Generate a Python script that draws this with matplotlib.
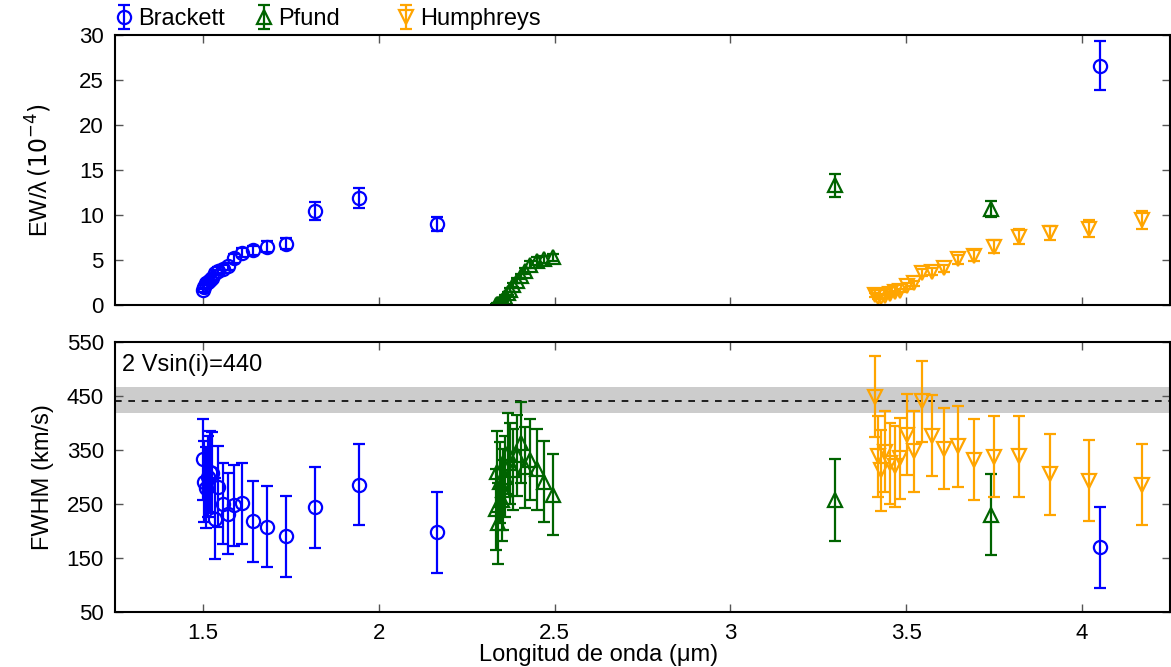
import numpy as np
import matplotlib.pyplot as plt

plt.rcParams['font.family'] = ['Liberation Sans', 'DejaVu Sans']
plt.rcParams['font.size'] = 16

# ── Data (wavelengths in micron) ───────────────────────────────────
# Brackett: Br-alpha, Br-gamma, Br-delta, Br-eps, Br10 ... Br24
br_wl = [4.0512, 2.1655, 1.9445, 1.8174, 1.7362, 1.6811, 1.6412, 1.6114,
         1.5885, 1.5705, 1.5561, 1.5443, 1.5346, 1.5265, 1.5196, 1.5137,
         1.5087, 1.5043, 1.5004]
br_ew = [26.6, 9.0, 11.9, 10.5, 6.8, 6.5, 6.1, 5.8,
         5.2, 4.3, 4.0, 3.8, 3.6, 3.0, 2.8, 2.6, 2.4, 2.0, 1.7]
br_ew_err = [2.7, 0.8, 1.1, 1.0, 0.6, 0.6, 0.5, 0.5,
             0.5, 0.4, 0.4, 0.4, 0.3, 0.3, 0.3, 0.3, 0.2, 0.2, 0.2]
br_fw = [170, 198, 286, 244, 190, 208, 218, 251,
         248, 232, 250, 282, 223, 308, 310, 300, 280, 291, 333]
br_fw_err = [75, 75, 75, 75, 75, 75, 75, 75,
             75, 75, 75, 75, 75, 75, 75, 75, 75, 75, 75]

# Pfund: Pf-gamma, Pf-delta, Pf17 ... Pf33
pf_wl = [3.7406, 3.2970, 2.4953, 2.4700, 2.4490, 2.4314, 2.4164, 2.4036,
         2.3925, 2.3828, 2.3744, 2.3669, 2.3604, 2.3545, 2.3492, 2.3445,
         2.3403, 2.3364, 2.3330]
pf_ew = [10.7, 13.3, 5.3, 5.1, 4.9, 4.5, 3.8, 3.2,
         2.7, 2.2, 1.7, 1.3, 0.9, 0.6, 0.4, 0.25, 0.15, 0.1, 0.05]
pf_ew_err = [0.9, 1.3, 0.4, 0.4, 0.4, 0.4, 0.3, 0.3,
             0.3, 0.2, 0.2, 0.2, 0.2, 0.1, 0.1, 0.1, 0.1, 0.1, 0.1]
pf_fw = [230, 257, 267, 291, 314, 332, 318, 363,
         340, 313, 325, 344, 300, 276, 257, 290, 214, 310, 240]
pf_fw_err = [75, 76, 75, 75, 75, 75, 75, 75,
             75, 75, 75, 75, 75, 75, 75, 75, 75, 75, 75]

# Humphreys: Hu13 ... Hu31
hu_wl = [4.1708, 4.0209, 3.9075, 3.8195, 3.7494, 3.6926, 3.6459, 3.6070,
         3.5741, 3.5461, 3.5220, 3.5011, 3.4830, 3.4670, 3.4528, 3.4403,
         3.4291, 3.4191, 3.4101]
hu_ew = [9.4, 8.5, 8.0, 7.6, 6.5, 5.5, 5.1, 4.1,
         3.7, 3.6, 2.4, 2.1, 1.6, 1.4, 1.2, 1.0, 0.9, 0.9, 1.1]
hu_ew_err = [1.0, 0.9, 0.8, 0.8, 0.7, 0.6, 0.5, 0.4,
             0.4, 0.4, 0.3, 0.3, 0.2, 0.2, 0.2, 0.2, 0.2, 0.2, 0.2]
hu_fw = [286, 293, 305, 338, 337, 332, 357, 352,
         376, 440, 348, 378, 335, 320, 325, 347, 312, 338, 449]
hu_fw_err = [75, 75, 75, 75, 75, 75, 75, 75,
             75, 75, 75, 75, 75, 75, 75, 75, 75, 75, 75]

vsini2 = 440
vsini2_band = (418, 466)

series = [
    ("Brackett", br_wl, br_ew, br_ew_err, br_fw, br_fw_err, '#0000ff', 'o'),
    ("Pfund", pf_wl, pf_ew, pf_ew_err, pf_fw, pf_fw_err, '#006400', '^'),
    ("Humphreys", hu_wl, hu_ew, hu_ew_err, hu_fw, hu_fw_err, '#ffa500', 'v'),
]

fig = plt.figure(figsize=(11.71, 6.67), dpi=100)
ax1 = fig.add_axes([0.0982, 0.5427, 0.9009, 0.4048])
ax2 = fig.add_axes([0.0982, 0.0825, 0.9009, 0.4048])

style = dict(ls='none', mfc='none', ms=9.5, mew=1.6, elinewidth=1.6,
             capsize=4, capthick=1.6)

# ── Bottom panel: 2 Vsin(i) band ───────────────────────────────────
ax2.axhspan(*vsini2_band, color='#cccccc', lw=0, zorder=0)
ax2.axhline(vsini2, color='black', ls=(0, (4, 4)), lw=1.2, zorder=1)
ax2.text(1.27, 507, "2 Vsin(i)=440", fontsize=17, va='center', ha='left')

handles = []
for name, wl, ew, ew_err, fw, fw_err, col, mk in series:
    h = ax1.errorbar(wl, ew, yerr=ew_err, color=col, marker=mk, **style)
    ax2.errorbar(wl, fw, yerr=fw_err, color=col, marker=mk, **style)
    handles.append((h, name))

for ax in (ax1, ax2):
    ax.set_xlim(1.25, 4.25)
    ax.tick_params(direction='in', top=True, right=True, length=6,
                   width=1, color='#555555', labelsize=16, pad=8)
    for sp in ax.spines.values():
        sp.set_linewidth(1.5)
    ax.set_xticks([1.5, 2, 2.5, 3, 3.5, 4])

ax1.set_ylim(0, 30)
ax1.set_yticks(np.arange(0, 31, 5))
ax1.set_xticklabels([])
ax1.set_ylabel(r'EW/λ$\,\left(10^{-4}\right)$', fontsize=17)
ax1.yaxis.set_label_coords(-0.058, 0.5)

ax2.set_ylim(50, 550)
ax2.set_yticks(np.arange(50, 551, 100))
ax2.set_xticklabels(['1.5', '2', '2.5', '3', '3.5', '4'])
ax2.set_ylabel('FWHM (km/s)', fontsize=17)
ax2.yaxis.set_label_coords(-0.058, 0.5)
ax2.set_xlabel('Longitud de onda (μm)', fontsize=17)
ax2.xaxis.set_label_coords(0.458, -0.118)

# legend entries above the top panel, gnuplot-like fixed columns
leg_x = [0.098, 0.217, 0.339]
for (h, name), x in zip(handles, leg_x):
    fig.legend([h], [name], loc='center left', bbox_to_anchor=(x, 0.971),
               frameon=False, fontsize=17, handlelength=0.8,
               handletextpad=0.2, borderpad=0, borderaxespad=0)

fig.savefig('out.png', dpi=100)
